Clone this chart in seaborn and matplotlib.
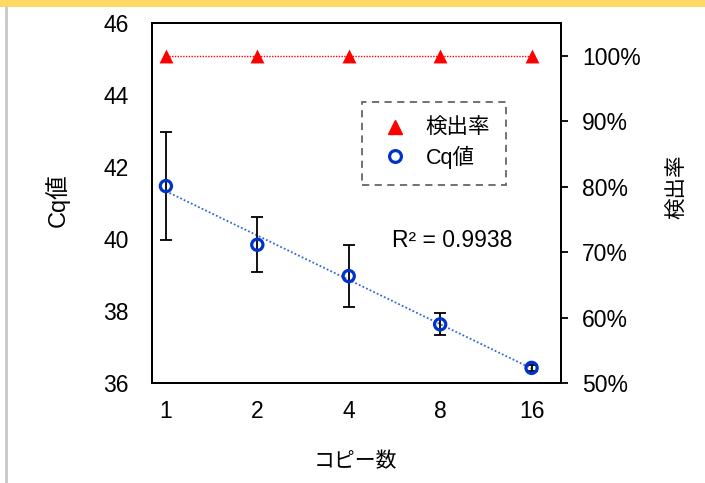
import numpy as np
import pandas as pd
import seaborn as sns
import matplotlib.pyplot as plt
from matplotlib.lines import Line2D

sns.set_theme(style="white")
plt.rcParams['font.family'] = ['Liberation Sans', 'Noto Sans CJK JP', 'DejaVu Sans']
plt.rcParams['text.color'] = 'black'

# データ
copies = [1, 2, 4, 8, 16]
cq_mean = [41.47, 39.84, 38.97, 37.63, 36.42]
cq_sd = [1.50, 0.76, 0.85, 0.31, 0.08]
detect_rate = [1.0, 1.0, 1.0, 1.0, 1.0]
r2_text = "R² = 0.9938"

df = pd.DataFrame({"copies": copies, "cq": cq_mean, "sd": cq_sd, "rate": detect_rate})

# 対数近似 (y = a ln x + b)
a, b = np.polyfit(np.log(df["copies"]), df["cq"], 1)
df["fit"] = a * np.log(df["copies"]) + b

fig = plt.figure(figsize=(7.05, 4.83), dpi=100)
ax = fig.add_axes([152 / 705, 1 - 383 / 483, (561 - 152) / 705, (383 - 23) / 483])
ax2 = ax.twinx()

# 検出率 (右軸)
sns.lineplot(data=df, x="copies", y="rate", ax=ax2, color="red",
             linestyle=(0, (1, 1)), linewidth=1.0, legend=False)
sns.scatterplot(data=df, x="copies", y="rate", ax=ax2, marker="^", s=100,
                color="red", edgecolor="red", linewidth=0, zorder=5, legend=False)

# Cq値 (左軸)
sns.lineplot(data=df, x="copies", y="fit", ax=ax, color="#3366DD",
             linestyle=(0, (1, 1.2)), linewidth=1.3, legend=False)
ax.errorbar(df["copies"], df["cq"], yerr=df["sd"], fmt="none", ecolor="black",
            elinewidth=1.3, capsize=4, capthick=1.3, zorder=3)
ax.set_zorder(ax2.get_zorder() + 1)
ax.patch.set_visible(False)
sns.scatterplot(data=df, x="copies", y="cq", ax=ax, marker="o", s=65,
                facecolor="none", edgecolor="#0033CC", linewidth=2.3, zorder=5, legend=False)

for axis in (ax, ax2):
    axis.set_xscale("log", base=2)
    axis.set_xlim(0.9, 20)
    axis.set_xlabel("")
    axis.set_ylabel("")

ax.set_xticks(copies)
ax.set_xticklabels([str(c) for c in copies])
ax.minorticks_off()
ax2.minorticks_off()
ax.set_ylim(36, 46)
ax.set_yticks(np.arange(36, 47, 2))
ax2.set_ylim(0.5, 1.05)
ax2.set_yticks(np.arange(0.5, 1.01, 0.1))
ax2.set_yticklabels([f"{int(round(v * 100))}%" for v in np.arange(0.5, 1.01, 0.1)])

ax.tick_params(axis="y", length=0, pad=17, labelsize=16.5, labelcolor="black")
ax.tick_params(axis="x", length=0, pad=12, labelsize=16.5, labelcolor="black")
ax2.tick_params(axis="y", length=5, width=1.3, pad=10, labelsize=16.5, colors="black",
                direction="out", right=True)

for axis in (ax, ax2):
    for sp in axis.spines.values():
        sp.set_color("black")
        sp.set_linewidth(1.4)

# 凡例
handles = [
    Line2D([], [], marker="^", linestyle="none", color="red", markersize=10.5),
    Line2D([], [], marker="o", linestyle="none", markerfacecolor="none",
           markeredgecolor="#0033CC", markeredgewidth=2.3, markersize=8.5),
]
leg = fig.legend(handles, ["検出率", "Cq値"], loc="upper left",
                 bbox_to_anchor=(362 / 705, 1 - 102 / 483), borderaxespad=0,
                 fontsize=15.5, frameon=True, fancybox=False, borderpad=0.75,
                 labelspacing=0.3, handletextpad=0.6, handlelength=1.6)
frame = leg.get_frame()
frame.set_linestyle((0, (4, 3)))
frame.set_edgecolor("#404040")
frame.set_linewidth(1.3)

fig.text(452 / 705, 1 - 240 / 483, r2_text, fontsize=16.5, ha="center", va="center")

# 軸ラベル
fig.text(57 / 705, 1 - 200 / 483, "Cq値", fontsize=17, rotation=90, ha="center", va="center")
fig.text(678 / 705, 1 - 187 / 483, "検出率", fontsize=15.5, rotation=90, ha="center", va="center")
fig.text(355 / 705, 1 - 461 / 483, "コピー数", fontsize=15, ha="center", va="center")

# 枠の装飾
fig.patches.append(plt.Rectangle((0, 1 - 7 / 483), 1, 7 / 483, transform=fig.transFigure,
                                 facecolor="#FFD966", edgecolor="none"))
fig.lines.append(Line2D([5.5 / 705, 5.5 / 705], [0, 1 - 7 / 483], transform=fig.transFigure,
                        color="#C8C8C8", linewidth=2))

fig.savefig("out.png", dpi=100)
